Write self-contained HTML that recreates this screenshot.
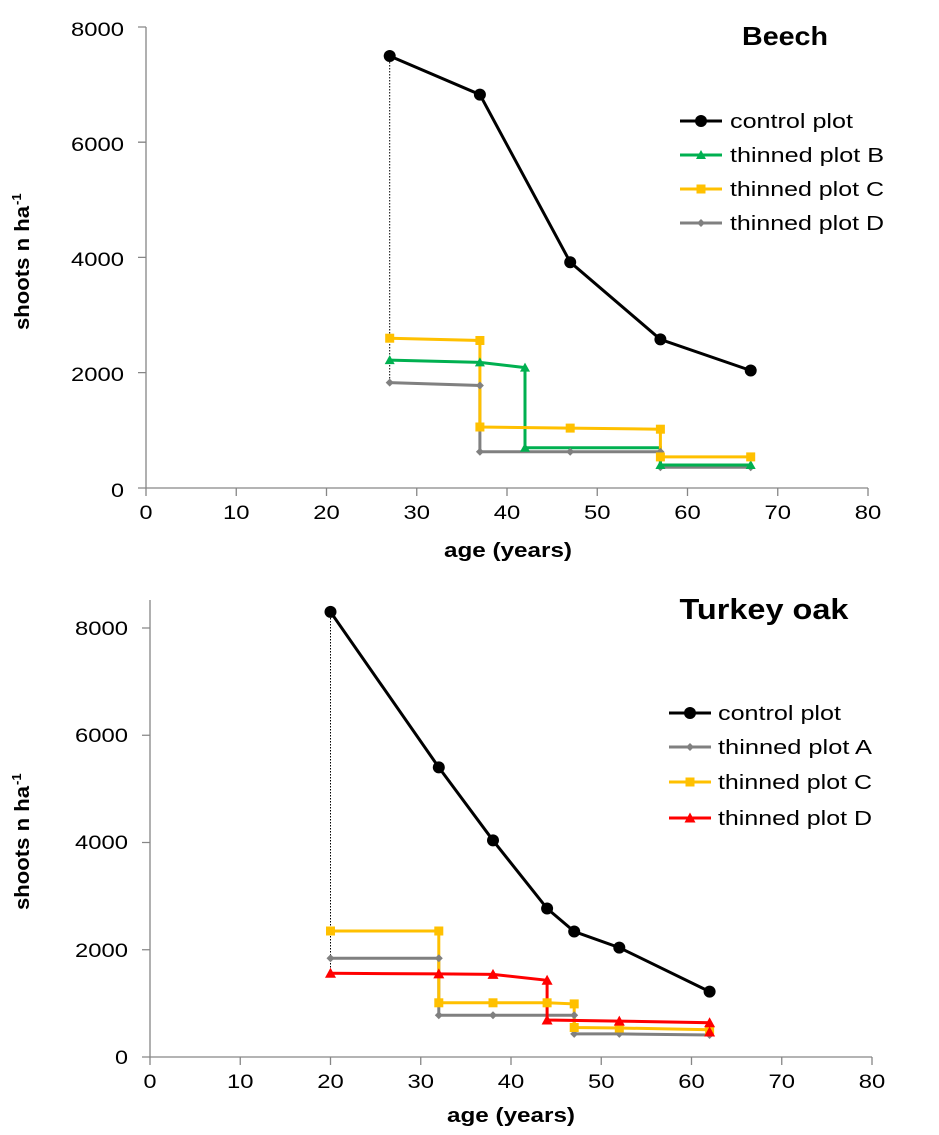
<!DOCTYPE html>
<html><head><meta charset="utf-8"><style>
html,body{margin:0;padding:0;background:#fff}
svg{display:block;font-family:"Liberation Sans",Arial,sans-serif}
</style></head><body>
<svg width="939" height="1135" viewBox="0 0 939 1135" xmlns="http://www.w3.org/2000/svg">
<defs>
<g id="c"><circle r="6" fill="#000"/></g>
<g id="ty"><rect x="-4.5" y="-4.5" width="9" height="9" fill="#FFC000"/></g>
<g id="dg"><path d="M0,-4 L4,0 L0,4 L-4,0Z" fill="#808080"/></g>
<g id="tg"><path d="M0,-5 L5,4 L-5,4Z" fill="#00B050"/></g>
<g id="tr"><path d="M0,-5.5 L5.5,4.5 L-5.5,4.5Z" fill="#FF0000"/></g>
</defs>

<!-- TOP CHART -->
<g stroke="#868686" stroke-width="1.3" fill="none">
<path d="M146,27 V488 H868"/>
<path d="M138,27H146M138,142.2H146M138,257.4H146M138,372.6H146M138,488H146"/>
<path d="M146,488v8M236.25,488v8M326.5,488v8M416.75,488v8M507,488v8M597.25,488v8M687.5,488v8M777.75,488v8M868,488v8"/>
</g>
<g font-size="19" fill="#000" text-anchor="end" lengthAdjust="spacingAndGlyphs">
<text x="124" y="36" textLength="53" lengthAdjust="spacingAndGlyphs">8000</text><text x="124" y="151" textLength="53" lengthAdjust="spacingAndGlyphs">6000</text><text x="124" y="266" textLength="53" lengthAdjust="spacingAndGlyphs">4000</text><text x="124" y="381" textLength="53" lengthAdjust="spacingAndGlyphs">2000</text><text x="124" y="497" textLength="13" lengthAdjust="spacingAndGlyphs">0</text>
</g>
<g font-size="19" fill="#000" text-anchor="middle">
<text x="146" y="519" textLength="13" lengthAdjust="spacingAndGlyphs">0</text><text x="236.25" y="519" textLength="26.5" lengthAdjust="spacingAndGlyphs">10</text><text x="326.5" y="519" textLength="26.5" lengthAdjust="spacingAndGlyphs">20</text><text x="416.75" y="519" textLength="26.5" lengthAdjust="spacingAndGlyphs">30</text><text x="507" y="519" textLength="26.5" lengthAdjust="spacingAndGlyphs">40</text><text x="597.25" y="519" textLength="26.5" lengthAdjust="spacingAndGlyphs">50</text><text x="687.5" y="519" textLength="26.5" lengthAdjust="spacingAndGlyphs">60</text><text x="777.75" y="519" textLength="26.5" lengthAdjust="spacingAndGlyphs">70</text><text x="868" y="519" textLength="26.5" lengthAdjust="spacingAndGlyphs">80</text>
</g>
<text x="508" y="557" font-size="20" font-weight="bold" text-anchor="middle" textLength="128" lengthAdjust="spacingAndGlyphs">age (years)</text>
<g transform="translate(29,330) rotate(-90)"><text x="0" y="0" font-size="20" font-weight="bold" textLength="124" lengthAdjust="spacingAndGlyphs">shoots n ha</text><text x="125" y="-8" font-size="13" font-weight="bold">-1</text></g>
<text x="785" y="45" font-size="26" font-weight="bold" text-anchor="middle" textLength="86" lengthAdjust="spacingAndGlyphs">Beech</text>

<line x1="389.7" y1="56" x2="389.7" y2="383" stroke="#000" stroke-width="1" stroke-dasharray="1.5,1.5"/>
<polyline fill="none" stroke="#808080" stroke-width="3" points="389.7,382.6 479.9,385.5 479.9,451.7 570.2,451.7 660.4,451.7 660.4,467.3 750.7,467.3"/>
<polyline fill="none" stroke="#00B050" stroke-width="3" points="389.7,360.1 479.9,362.4 525,367.6 525,447.7 660.4,447.7 660.4,465 750.7,465"/>
<polyline fill="none" stroke="#FFC000" stroke-width="3" points="389.7,338.2 479.9,340.5 479.9,427 570.2,428.1 660.4,429.2 660.4,456.9 750.7,456.9"/>
<polyline fill="none" stroke="#000" stroke-width="3" points="389.7,56 479.9,94.6 570.2,262.2 660.4,339.4 750.7,370.5"/>
<use href="#dg" x="389.7" y="382.6"/><use href="#dg" x="479.9" y="385.5"/><use href="#dg" x="479.9" y="451.7"/><use href="#dg" x="570.2" y="451.7"/><use href="#dg" x="660.4" y="451.7"/><use href="#dg" x="660.4" y="467.3"/><use href="#dg" x="750.7" y="467.3"/>
<use href="#tg" x="389.7" y="360.1"/><use href="#tg" x="479.9" y="362.4"/><use href="#tg" x="525" y="367.6"/><use href="#tg" x="525" y="447.7"/><use href="#tg" x="660.4" y="465"/><use href="#tg" x="750.7" y="465"/>
<use href="#ty" x="389.7" y="338.2"/><use href="#ty" x="479.9" y="340.5"/><use href="#ty" x="479.9" y="427"/><use href="#ty" x="570.2" y="428.1"/><use href="#ty" x="660.4" y="429.2"/><use href="#ty" x="660.4" y="456.9"/><use href="#ty" x="750.7" y="456.9"/>
<use href="#c" x="389.7" y="56"/><use href="#c" x="479.9" y="94.6"/><use href="#c" x="570.2" y="262.2"/><use href="#c" x="660.4" y="339.4"/><use href="#c" x="750.7" y="370.5"/>

<g font-size="20">
<line x1="680" y1="121" x2="722" y2="121" stroke="#000" stroke-width="3"/><use href="#c" x="701" y="121"/><text x="730" y="128" textLength="123" lengthAdjust="spacingAndGlyphs">control plot</text>
<line x1="680" y1="155" x2="722" y2="155" stroke="#00B050" stroke-width="3"/><use href="#tg" x="701" y="155"/><text x="730" y="162" textLength="154" lengthAdjust="spacingAndGlyphs">thinned plot B</text>
<line x1="680" y1="189" x2="722" y2="189" stroke="#FFC000" stroke-width="3"/><use href="#ty" x="701" y="189"/><text x="730" y="196" textLength="154" lengthAdjust="spacingAndGlyphs">thinned plot C</text>
<line x1="680" y1="223" x2="722" y2="223" stroke="#808080" stroke-width="3"/><use href="#dg" x="701" y="223"/><text x="730" y="230" textLength="154" lengthAdjust="spacingAndGlyphs">thinned plot D</text>
</g>

<!-- BOTTOM CHART -->
<g stroke="#868686" stroke-width="1.3" fill="none">
<path d="M150,600 V1057 H872"/>
<path d="M142,628H150M142,735.25H150M142,842.5H150M142,949.75H150M142,1057H150"/>
<path d="M150,1057v8M240.25,1057v8M330.5,1057v8M420.75,1057v8M511,1057v8M601.25,1057v8M691.5,1057v8M781.75,1057v8M872,1057v8"/>
</g>
<g font-size="19" fill="#000" text-anchor="end">
<text x="128" y="635" textLength="53" lengthAdjust="spacingAndGlyphs">8000</text><text x="128" y="742" textLength="53" lengthAdjust="spacingAndGlyphs">6000</text><text x="128" y="849" textLength="53" lengthAdjust="spacingAndGlyphs">4000</text><text x="128" y="957" textLength="53" lengthAdjust="spacingAndGlyphs">2000</text><text x="128" y="1064" textLength="13" lengthAdjust="spacingAndGlyphs">0</text>
</g>
<g font-size="19" fill="#000" text-anchor="middle">
<text x="150" y="1088" textLength="13" lengthAdjust="spacingAndGlyphs">0</text><text x="240.25" y="1088" textLength="26.5" lengthAdjust="spacingAndGlyphs">10</text><text x="330.5" y="1088" textLength="26.5" lengthAdjust="spacingAndGlyphs">20</text><text x="420.75" y="1088" textLength="26.5" lengthAdjust="spacingAndGlyphs">30</text><text x="511" y="1088" textLength="26.5" lengthAdjust="spacingAndGlyphs">40</text><text x="601.25" y="1088" textLength="26.5" lengthAdjust="spacingAndGlyphs">50</text><text x="691.5" y="1088" textLength="26.5" lengthAdjust="spacingAndGlyphs">60</text><text x="781.75" y="1088" textLength="26.5" lengthAdjust="spacingAndGlyphs">70</text><text x="872" y="1088" textLength="26.5" lengthAdjust="spacingAndGlyphs">80</text>
</g>
<text x="511" y="1122" font-size="20" font-weight="bold" text-anchor="middle" textLength="128" lengthAdjust="spacingAndGlyphs">age (years)</text>
<g transform="translate(29,910) rotate(-90)"><text x="0" y="0" font-size="20" font-weight="bold" textLength="124" lengthAdjust="spacingAndGlyphs">shoots n ha</text><text x="125" y="-8" font-size="13" font-weight="bold">-1</text></g>
<text x="764" y="619" font-size="29" font-weight="bold" text-anchor="middle" textLength="169" lengthAdjust="spacingAndGlyphs">Turkey oak</text>

<line x1="330.5" y1="612" x2="330.5" y2="973" stroke="#000" stroke-width="1" stroke-dasharray="1.5,1.5"/>
<polyline fill="none" stroke="#808080" stroke-width="3" points="330.5,958.3 438.8,958.3 438.8,1015.2 493,1015.2 547.1,1015.2 574.2,1015.2 574.2,1033.9 619.3,1033.9 709.6,1035"/>
<polyline fill="none" stroke="#FFC000" stroke-width="3" points="330.5,931 438.8,931 438.8,1002.8 493,1002.8 547.1,1002.8 574.2,1003.9 574.2,1027.5 619.3,1028 709.6,1029.7"/>
<polyline fill="none" stroke="#FF0000" stroke-width="3" points="330.5,973.3 438.8,973.9 493,974.4 547.1,980.3 547.1,1020 619.3,1021.1 709.6,1022.7 709.6,1033"/>
<polyline fill="none" stroke="#000" stroke-width="3" points="330.5,611.9 438.8,767.4 493,840.4 547.1,908.5 574.2,931.5 619.3,947.6 709.6,991.6"/>
<use href="#dg" x="330.5" y="958.3"/><use href="#dg" x="438.8" y="958.3"/><use href="#dg" x="438.8" y="1015.2"/><use href="#dg" x="493" y="1015.2"/><use href="#dg" x="574.2" y="1015.2"/><use href="#dg" x="574.2" y="1033.9"/><use href="#dg" x="619.3" y="1033.9"/><use href="#dg" x="709.6" y="1035"/>
<use href="#ty" x="330.5" y="931"/><use href="#ty" x="438.8" y="931"/><use href="#ty" x="438.8" y="1002.8"/><use href="#ty" x="493" y="1002.8"/><use href="#ty" x="547.1" y="1002.8"/><use href="#ty" x="574.2" y="1003.9"/><use href="#ty" x="574.2" y="1027.5"/><use href="#ty" x="619.3" y="1028"/><use href="#ty" x="709.6" y="1029.7"/>
<use href="#tr" x="330.5" y="973.3"/><use href="#tr" x="438.8" y="973.9"/><use href="#tr" x="493" y="974.4"/><use href="#tr" x="547.1" y="980.3"/><use href="#tr" x="547.1" y="1020"/><use href="#tr" x="619.3" y="1021.1"/><use href="#tr" x="709.6" y="1022.7"/><use href="#tr" x="709.6" y="1032"/>
<use href="#c" x="330.5" y="611.9"/><use href="#c" x="438.8" y="767.4"/><use href="#c" x="493" y="840.4"/><use href="#c" x="547.1" y="908.5"/><use href="#c" x="574.2" y="931.5"/><use href="#c" x="619.3" y="947.6"/><use href="#c" x="709.6" y="991.6"/>

<g font-size="20">
<line x1="669" y1="713" x2="711" y2="713" stroke="#000" stroke-width="3"/><use href="#c" x="690" y="713"/><text x="718" y="720" textLength="123" lengthAdjust="spacingAndGlyphs">control plot</text>
<line x1="669" y1="747" x2="711" y2="747" stroke="#808080" stroke-width="3"/><use href="#dg" x="690" y="747"/><text x="718" y="754" textLength="154" lengthAdjust="spacingAndGlyphs">thinned plot A</text>
<line x1="669" y1="782" x2="711" y2="782" stroke="#FFC000" stroke-width="3"/><use href="#ty" x="690" y="782"/><text x="718" y="789" textLength="154" lengthAdjust="spacingAndGlyphs">thinned plot C</text>
<line x1="669" y1="818" x2="711" y2="818" stroke="#FF0000" stroke-width="3"/><use href="#tr" x="690" y="818"/><text x="718" y="825" textLength="154" lengthAdjust="spacingAndGlyphs">thinned plot D</text>
</g>
</svg>
</body></html>
